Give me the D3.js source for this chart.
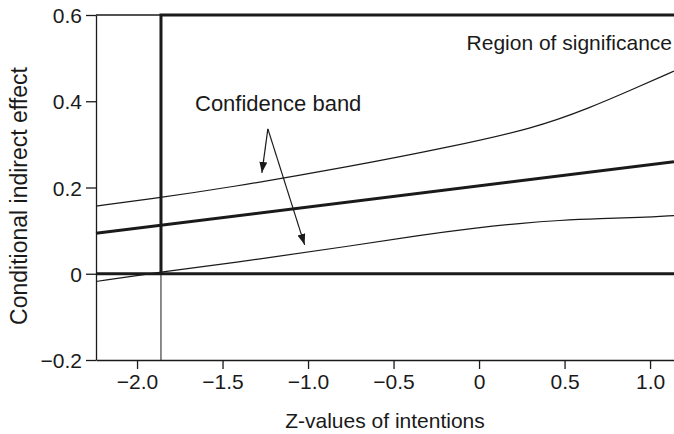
<!DOCTYPE html>
<html>
<head>
<meta charset="utf-8">
<script src="https://cdn.jsdelivr.net/npm/d3@7"></script>
<style>
  body { margin: 0; background: #fff; }
  text { font-family: "Liberation Sans", Arial, sans-serif; fill: #1a1a1a; }
</style>
</head>
<body>
<div id="chart"></div>
<script>

// values (z = Z-values of intentions, v = conditional indirect effect)
var xTicks = [ -2.0, -1.5, -1.0, -0.5, 0, 0.5, 1.0 ],
    yTicks = [ -0.2, 0, 0.2, 0.4, 0.6 ],
    xDomain = [ -2.24, 1.14 ],
    yDomain = [ -0.2, 0.6 ],
    jnPoint = -1.86;   // where the lower band crosses zero

var estimate = [ [ -2.24, 0.094 ], [ 1.14, 0.260 ] ];

var upperBand = [ [ -2.24, 0.157 ], [ -1.93, 0.173 ], [ -1.46, 0.200 ], [ -0.76, 0.248 ],
                  [ -0.17, 0.294 ], [ 0.32, 0.337 ], [ 0.65, 0.385 ], [ 0.90, 0.428 ],
                  [ 1.14, 0.470 ] ];

var lowerBand = [ [ -2.24, -0.018 ], [ -1.86, 0.004 ], [ -1.28, 0.034 ], [ -0.76, 0.064 ],
                  [ -0.35, 0.089 ], [ -0.02, 0.106 ], [ 0.24, 0.117 ], [ 0.47, 0.124 ],
                  [ 0.71, 0.128 ], [ 0.94, 0.130 ], [ 1.14, 0.135 ] ];

// arrow start and the two tips, in data units
var arrowFrom = [ -1.235, 0.336 ],
    arrowTips = [ [ -1.27, 0.234 ], [ -1.02, 0.067 ] ];

var margin = { top: 15, right: 0, bottom: 74, left: 96 },
    width = 674 - margin.left - margin.right,
    height = 434 - margin.top - margin.bottom;

var x = d3.scaleLinear().domain( xDomain ).range([ 0, width ]),
    y = d3.scaleLinear().domain( yDomain ).range([ height, 0 ]);

var ink = '#1a1a1a';

var svg = d3.select('#chart').append('svg')
    .attr('width', width + margin.left + margin.right)
    .attr('height', height + margin.top + margin.bottom)
  .append('g')
    .attr('transform', `translate(${margin.left},${margin.top})`);

svg.append('defs').append('marker')
    .attr('id', 'head')
    .attr('markerUnits', 'userSpaceOnUse')
    .attr('markerWidth', 12).attr('markerHeight', 10)
    .attr('refX', 11).attr('refY', 4)
    .attr('orient', 'auto')
  .append('path')
    .attr('d', 'M0,0 L11,4 L0,8 Z')
    .attr('fill', ink);

var fmt = d => d === 0 ? '0' : d3.format('.1f')(d);

// axes
var yAxis = svg.append('g')
    .call( d3.axisLeft(y).tickValues(yTicks).tickFormat(fmt).tickSize(10).tickSizeOuter(0).tickPadding(4) );

var xAxis = svg.append('g')
    .attr('transform', `translate(0,${height})`)
    .call( d3.axisBottom(x).tickValues(xTicks).tickFormat(fmt).tickSize(9).tickSizeOuter(0).tickPadding(5) );

[ yAxis, xAxis ].forEach(a => {
  a.selectAll('path, line').attr('stroke', ink).attr('stroke-width', 1.3);
  a.selectAll('text').attr('font-size', 21).attr('fill', ink)
    .style('font-family', '"Liberation Sans", Arial, sans-serif');
});
yAxis.selectAll('text').attr('dy', '0.36em');

// top frame line
svg.append('line')
    .attr('x1', 0).attr('x2', width).attr('y1', 0).attr('y2', 0)
    .attr('stroke', ink).attr('stroke-width', 1.3);

// thin continuation of the boundary below zero
svg.append('line')
    .attr('x1', x(jnPoint)).attr('x2', x(jnPoint))
    .attr('y1', y(0)).attr('y2', height)
    .attr('stroke', ink).attr('stroke-width', 1);

var curves = svg.append('g');

var line = d3.line()
    .x( d => x(d[0]) )
    .y( d => y(d[1]) )
    .curve( d3.curveBasis );

curves.append('path').datum(upperBand)
    .attr('d', line).attr('fill', 'none').attr('stroke', ink).attr('stroke-width', 1.2);
curves.append('path').datum(lowerBand)
    .attr('d', line).attr('fill', 'none').attr('stroke', ink).attr('stroke-width', 1.2);
curves.append('path').datum(estimate)
    .attr('d', line).attr('fill', 'none').attr('stroke', ink).attr('stroke-width', 3);

// zero line
svg.append('line')
    .attr('x1', 0).attr('x2', width).attr('y1', y(0)).attr('y2', y(0))
    .attr('stroke', ink).attr('stroke-width', 3.2);

// region of significance boundary
svg.append('path')
    .attr('d', `M${x(jnPoint)},${y(0)} L${x(jnPoint)},${y(0.6)} L${width},${y(0.6)}`)
    .attr('fill', 'none').attr('stroke', ink).attr('stroke-width', 3);

// annotations
svg.append('text')
    .attr('x', width - 2).attr('y', 35)
    .attr('text-anchor', 'end')
    .attr('font-size', 21)
    .text('Region of significance');

svg.append('text')
    .attr('x', 99).attr('y', 96)
    .attr('font-size', 22)
    .text('Confidence band');

svg.append('g').selectAll('line')
    .data(arrowTips).enter()
  .append('line')
    .attr('x1', x(arrowFrom[0])).attr('y1', y(arrowFrom[1]))
    .attr('x2', d => x(d[0])).attr('y2', d => y(d[1]))
    .attr('stroke', ink).attr('stroke-width', 1.2)
    .attr('marker-end', 'url(#head)');

// axis titles
svg.append('text')
    .attr('x', 289).attr('y', height + 68)
    .attr('text-anchor', 'middle')
    .attr('font-size', 21)
    .text('Z-values of intentions');

svg.append('text')
    .attr('transform', `translate(${27 - margin.left},${196 - margin.top}) rotate(-90)`)
    .attr('text-anchor', 'middle')
    .attr('font-size', 23)
    .text('Conditional indirect effect');

</script>
</body>
</html>
